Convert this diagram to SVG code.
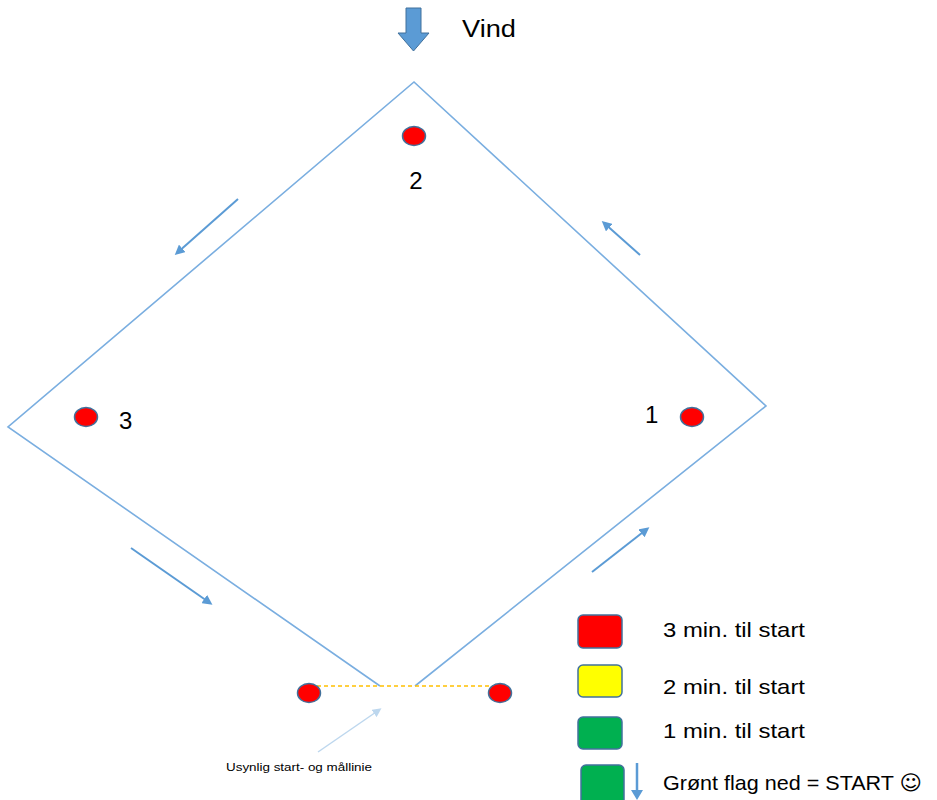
<svg xmlns="http://www.w3.org/2000/svg" width="937" height="800" viewBox="0 0 937 800">
<style>
.txt{font-family:"Liberation Sans",Arial,sans-serif;fill:#000}
.edge{stroke:#7aaee0;stroke-width:1.6;fill:none}
.arr{stroke:#5b9bd5;stroke-width:2;fill:none;marker-end:url(#ah)}
.buoy{fill:#ff0000;stroke:#41719c;stroke-width:1.5}
.flag{stroke:#41719c;stroke-width:1.5}
</style>
<defs>
<marker id="ah" markerWidth="10" markerHeight="10" refX="7" refY="5" orient="auto" markerUnits="userSpaceOnUse" viewBox="0 0 10 10">
<path d="M0,0 L10,5 L0,10 z" fill="#5b9bd5"/>
</marker>
<marker id="ahl" markerWidth="9" markerHeight="9" refX="6" refY="4.5" orient="auto" markerUnits="userSpaceOnUse" viewBox="0 0 9 9">
<path d="M0,0 L9,4.5 L0,9 z" fill="#bdd7ee"/>
</marker>
</defs>
<rect width="937" height="800" fill="#fff"/>

<g id="wind">
<path d="M406,8 L421,8 L421,33 L429,33 L413.5,51 L398,33 L406,33 z" fill="#5b9bd5" stroke="#41719c" stroke-width="1"/>
<text class="txt" x="462" y="37" font-size="23" textLength="54" lengthAdjust="spacingAndGlyphs">Vind</text>
</g>

<g id="course">
<polyline class="edge" points="380,686 8,427 414,82 766,406 415,686"/>
<line x1="317" y1="686" x2="507" y2="686" stroke="#ffc000" stroke-width="1.5" stroke-dasharray="4,3"/>
</g>

<g id="buoy2">
<ellipse class="buoy" cx="414" cy="136" rx="11.5" ry="9.5"/>
<text class="txt" x="416" y="189" font-size="24" text-anchor="middle">2</text>
</g>
<g id="buoy3">
<ellipse class="buoy" cx="86" cy="417" rx="11.5" ry="9.5"/>
<text class="txt" x="119" y="429" font-size="24">3</text>
</g>
<g id="buoy1">
<ellipse class="buoy" cx="692" cy="417" rx="11.5" ry="9.5"/>
<text class="txt" x="645" y="423" font-size="24">1</text>
</g>
<g id="startLeft">
<ellipse class="buoy" cx="309" cy="693" rx="11.5" ry="9.5"/>
</g>
<g id="startRight">
<ellipse class="buoy" cx="500" cy="693" rx="11.5" ry="9.5"/>
</g>

<g id="connectors">
<line class="arr" x1="238" y1="199" x2="177" y2="253"/>
<line class="arr" x1="640" y1="255" x2="604" y2="223"/>
<line class="arr" x1="131" y1="548" x2="210" y2="603"/>
<line class="arr" x1="592" y1="572" x2="647" y2="529"/>
<line x1="318" y1="752" x2="379" y2="710" stroke="#bdd7ee" stroke-width="1.5" marker-end="url(#ahl)"/>
</g>

<g id="lineLabel">
<text class="txt" x="226" y="771" font-size="11" textLength="146" lengthAdjust="spacingAndGlyphs">Usynlig start- og mållinie</text>
</g>

<g id="legend3">
<rect class="flag" x="578" y="615" width="44" height="33" rx="5" fill="#ff0000"/>
<text class="txt" x="663" y="637" font-size="21" textLength="142" lengthAdjust="spacingAndGlyphs">3 min. til start</text>
</g>
<g id="legend2">
<rect class="flag" x="578" y="665" width="44" height="32" rx="5" fill="#ffff00"/>
<text class="txt" x="663" y="694" font-size="21" textLength="142" lengthAdjust="spacingAndGlyphs">2 min. til start</text>
</g>
<g id="legend1">
<rect class="flag" x="578" y="717" width="44" height="32" rx="5" fill="#00b050"/>
<text class="txt" x="663" y="738" font-size="21" textLength="142" lengthAdjust="spacingAndGlyphs">1 min. til start</text>
</g>
<g id="legendStart">
<rect class="flag" x="581" y="765" width="43" height="40" rx="5" fill="#00b050"/>
<line x1="637" y1="763" x2="637" y2="792" stroke="#5b9bd5" stroke-width="2.5"/>
<path d="M631,790 L643,790 L637,800 z" fill="#5b9bd5"/>
<text class="txt" x="663" y="790" font-size="21" textLength="259" lengthAdjust="spacingAndGlyphs">Grønt flag ned = START <tspan font-family="DejaVu Sans">☺</tspan></text>
</g>
</svg>
